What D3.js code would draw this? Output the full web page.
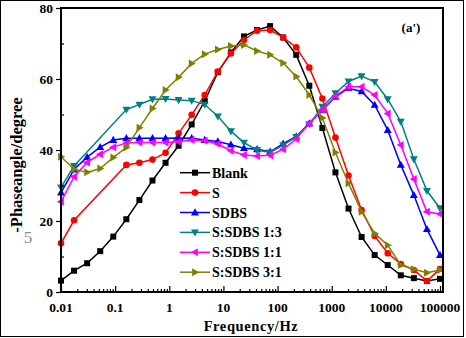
<!DOCTYPE html>
<html><head><meta charset="utf-8">
<script src="https://cdn.jsdelivr.net/npm/d3@7"></script>
<style>body{margin:0;background:#fff}svg{display:block}text{font-family:"Liberation Serif","Times New Roman",serif}</style>
</head><body><svg id="c" width="466" height="338"></svg>
<script>
const freq = [0.01,0.01743,0.03039,0.05298,0.09237,0.1610,0.2807,0.4894,0.8532,1.487,2.593,4.520,7.880,13.74,23.95,41.75,72.79,126.9,221.2,385.7,672.4,1172,2044,3563,6212,10830,18880,32910,57380,100000];
const blank = [3.2,6.0,8.1,11.5,15.6,20.5,25.9,31.4,36.4,41.2,47.2,53.8,61.9,67.5,72.0,73.8,74.9,71.7,66.8,58.1,46.2,33.7,23.5,15.5,10.4,7.6,4.7,3.9,3.1,3.7];
const sOnly = [13.7,20.2,null,null,null,35.8,36.4,37.3,39.2,44.7,49.9,55.5,62.1,67.2,71.0,73.6,73.8,71.7,68.9,63.2,54.5,43.5,32.8,23.1,15.8,10.9,7.9,6.2,3.1,6.5];
const sdbs = [28.0,34.5,38.0,40.8,42.8,43.3,43.3,43.3,43.3,43.4,43.3,42.8,42.4,41.5,40.5,40.2,39.5,41.8,43.8,47.5,51.3,55.0,57.4,56.5,52.7,45.6,35.8,27.3,17.7,10.4];
const s13 = [29.5,35.5,null,null,null,51.4,52.8,54.3,54.4,54.1,53.9,52.8,49.5,45.3,42.1,40.0,39.3,41.4,43.7,47.3,52.2,56.0,59.3,60.8,59.2,54.3,48.0,37.4,28.5,23.6];
const s11 = [25.4,32.5,36.5,38.8,40.8,42.0,42.1,42.1,42.1,42.3,42.8,42.6,41.7,39.8,38.6,38.3,38.5,40.2,43.1,47.5,51.4,55.2,57.8,57.8,55.5,50.3,41.4,31.8,22.6,22.0];
const s31 = [38.1,34.6,33.7,34.8,37.9,40.7,46.3,51.7,56.9,60.5,64.4,67.0,68.3,69.3,69.6,67.9,66.8,64.5,60.7,55.5,49.0,39.3,30.6,22.6,16.5,13.2,7.6,6.4,5.4,6.2];
const seriesNames = ["Blank","S","SDBS","S:SDBS 1:3","S:SDBS 1:1","S:SDBS 3:1"];
const seriesColors = ["#000000","#ff0000","#0000ff","#008080","#ff00ff","#808000"];
const seriesShapes = ["square","circle","up","down","left","right"];
const xTicks = [0.01,0.1,1,10,100,1000,10000,100000];
const xTickLabels = ["0.01","0.1","1","10","100","1000","10000","100000"];
const yTicks = [0,20,40,60,80];
const yMinor = [10,30,50,70];
const xLabel = "Frequency/Hz", yLabel = "-Phaseangle/degree", panelLabel = "(a')";

const seriesData = [blank,sOnly,sdbs,s13,s11,s31];
const svg = d3.select("#c");
const L=61, R=443, T=8, B=292;
const x = d3.scaleLog().domain([0.01,100000]).range([L,440]);
const y = d3.scaleLinear().domain([0,80]).range([B,T]);

svg.append("rect").attr("x",0.5).attr("y",0.5).attr("width",463).attr("height",336).attr("fill","none").attr("stroke","#000").attr("stroke-width",1);

function marker(g, shape, cx, cy, color){
  const s=3.6;
  let el;
  if(shape==="square") el=g.append("rect").attr("x",cx-3).attr("y",cy-3).attr("width",6).attr("height",6);
  else if(shape==="circle") el=g.append("circle").attr("cx",cx).attr("cy",cy).attr("r",3.3);
  else {
    let p;
    if(shape==="up") p=[[0,-s-0.6],[s+0.4,s*0.8],[-s-0.4,s*0.8]];
    if(shape==="down") p=[[0,s+0.6],[s+0.4,-s*0.8],[-s-0.4,-s*0.8]];
    if(shape==="left") p=[[-s-0.6,0],[s*0.8,-s-0.4],[s*0.8,s+0.4]];
    if(shape==="right") p=[[s+0.6,0],[-s*0.8,-s-0.4],[-s*0.8,s+0.4]];
    el=g.append("path").attr("d","M"+p.map(q=>(cx+q[0])+","+(cy+q[1])).join("L")+"Z");
  }
  el.attr("fill",color).attr("stroke","none");
}

const line = d3.line().x(d=>x(d.f)).y(d=>y(d.v));
seriesData.forEach((vals,k)=>{
  const pts = freq.map((f,i)=>({f:f,v:vals[i]})).filter(d=>d.v!==null);
  const g = svg.append("g");
  g.append("path").datum(pts).attr("d",line).attr("fill","none").attr("stroke",seriesColors[k]).attr("stroke-width",1.5);
  pts.forEach(d=>marker(g,seriesShapes[k],x(d.f),y(d.v),seriesColors[k]));
});

const minorX=[];
for(let e=-2;e<5;e++) for(let m=2;m<10;m++) minorX.push(m*Math.pow(10,e));
const xAx = svg.append("g").attr("transform",`translate(0,${B})`);
xAx.call(d3.axisTop(x).tickValues(minorX).tickSize(3).tickFormat(""));
xAx.append("g").call(d3.axisTop(x).tickValues(xTicks).tickSize(6).tickFormat(""));
xAx.selectAll(".domain").remove();
xAx.selectAll("line").attr("stroke","#000").attr("stroke-width",1.2);
svg.append("g").selectAll("text").data(xTicks).join("text")
  .attr("x",d=>x(d)).attr("y",312).attr("text-anchor","middle")
  .attr("font-size",13.5).attr("font-weight","bold").text((d,i)=>xTickLabels[i]);

const yAx = svg.append("g").attr("transform",`translate(${L},0)`);
yAx.call(d3.axisLeft(y).tickValues(yTicks).tickSize(5).tickFormat(""));
yAx.append("g").call(d3.axisRight(y).tickValues(yMinor).tickSize(3).tickFormat(""));
yAx.selectAll(".domain").remove();
yAx.selectAll("line").attr("stroke","#000").attr("stroke-width",1.2);
svg.append("g").selectAll("text").data(yTicks).join("text")
  .attr("x",53).attr("y",d=>y(d)+4.5).attr("text-anchor","end")
  .attr("font-size",13.5).attr("font-weight","bold").text(d=>d);

svg.append("rect").attr("x",L).attr("y",T).attr("width",R-L).attr("height",B-T).attr("fill","none").attr("stroke","#000").attr("stroke-width",2);

svg.append("text").attr("x",251).attr("y",331).attr("text-anchor","middle").attr("font-size",14.5).attr("font-weight","bold").attr("letter-spacing",0.6).text(xLabel);
svg.append("text").attr("transform","translate(22,165) rotate(-90)").attr("text-anchor","middle").attr("font-size",16.5).attr("font-weight","bold").text(yLabel);
svg.append("text").attr("x",28).attr("y",243).attr("text-anchor","middle").attr("font-size",17).attr("fill","#8a8a8a").text("5");
svg.append("text").attr("x",411).attr("y",32).attr("text-anchor","middle").attr("font-size",13).attr("font-weight","bold").text(panelLabel);

const lg = svg.append("g");
seriesNames.forEach((n,k)=>{
  const ly = 172.7 + k*19.9;
  lg.append("line").attr("x1",180).attr("x2",210).attr("y1",ly).attr("y2",ly).attr("stroke",seriesColors[k]).attr("stroke-width",1.5);
  marker(lg,seriesShapes[k],195,ly,seriesColors[k]);
  lg.append("text").attr("x",212).attr("y",ly+5).attr("font-size",14).attr("font-weight","bold").text(n);
});
</script></body></html>
